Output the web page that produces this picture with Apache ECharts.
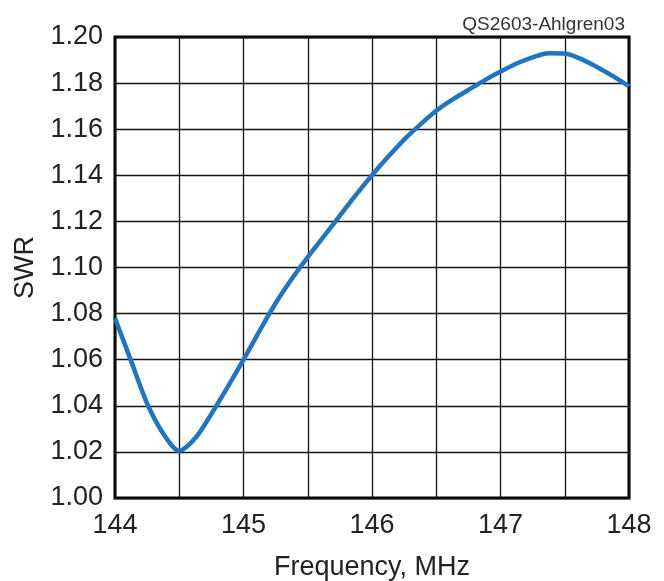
<!DOCTYPE html>
<html>
<head>
<meta charset="utf-8">
<script src="https://cdn.jsdelivr.net/npm/echarts@6/dist/echarts.min.js"></script>
<style>
  html, body { margin: 0; padding: 0; background: #fff; }
  #chart { width: 664px; height: 581px; }
</style>
</head>
<body>
<div id="chart"></div>
<script>
// frequency in MHz
const freq = [144.0, 144.125, 144.25, 144.375, 144.5, 144.625, 144.75, 144.875, 145.0, 145.125, 145.25, 145.375, 145.5, 145.625, 145.75, 145.875, 146.0, 146.125, 146.25, 146.375, 146.5, 146.625, 146.75, 146.875, 147.0, 147.125, 147.25, 147.375, 147.5, 147.625, 147.75, 147.875, 148.0]
const swr = [1.078, 1.0595, 1.041, 1.028, 1.0205, 1.026, 1.0365, 1.048, 1.060, 1.0725, 1.0845, 1.095, 1.1045, 1.1135, 1.1225, 1.1315, 1.140, 1.148, 1.1555, 1.162, 1.168, 1.1728, 1.177, 1.1812, 1.185, 1.1885, 1.1912, 1.193, 1.1928, 1.1905, 1.187, 1.183, 1.1786]
const xLabels = ['144', '145', '146', '147', '148']
const yTicks = ['1.00', '1.02', '1.04', '1.06', '1.08', '1.10', '1.12', '1.14', '1.16', '1.18', '1.20']

const myChart = echarts.init(document.getElementById('chart'))
const font = '"Liberation Sans", Arial, sans-serif'

myChart.setOption({
  animation: false,
  title: {
    text: 'QS2603-Ahlgren03',
    right: 34,
    top: 10,
    textStyle: { fontFamily: font, fontSize: 19, fontWeight: 'normal', color: '#333' },
  },
  grid: {
    left: 115,
    right: 35,
    top: 37,
    bottom: 83,
    outerBoundsMode: 'none',
    show: true,
    borderColor: '#000',
    borderWidth: 3,
  },
  xAxis: {
    type: 'value',
    min: 144,
    max: 148,
    interval: 0.5,
    name: 'Frequency, MHz',
    nameLocation: 'middle',
    nameGap: 56,
    nameTextStyle: { fontFamily: font, fontSize: 27, color: '#222' },
    axisLine: { show: false },
    axisTick: { show: false },
    axisLabel: {
      fontFamily: font,
      fontSize: 27,
      color: '#222',
      margin: 14,
      formatter: (v) => (xLabels.includes(String(v)) ? String(v) : ''),
    },
    splitLine: { show: true, lineStyle: { color: '#111', width: 1.3 } },
  },
  yAxis: {
    type: 'value',
    min: 1.0,
    max: 1.2,
    interval: 0.02,
    name: 'SWR',
    nameLocation: 'middle',
    nameRotate: 90,
    nameGap: 76,
    nameTextStyle: { fontFamily: font, fontSize: 27, color: '#222' },
    axisLine: { show: false },
    axisTick: { show: false },
    axisLabel: {
      fontFamily: font,
      fontSize: 27,
      color: '#222',
      margin: 12,
      formatter: (v) => yTicks[Math.round((v - 1) / 0.02)] || '',
    },
    splitLine: { show: true, lineStyle: { color: '#111', width: 1.3 } },
  },
  series: [
    {
      type: 'line',
      data: freq.map((f, i) => [f, swr[i]]),
      smooth: 0.3,
      showSymbol: false,
      lineStyle: { color: '#1f74c4', width: 4.5 },
      z: 5,
    },
  ],
})
</script>
</body>
</html>
